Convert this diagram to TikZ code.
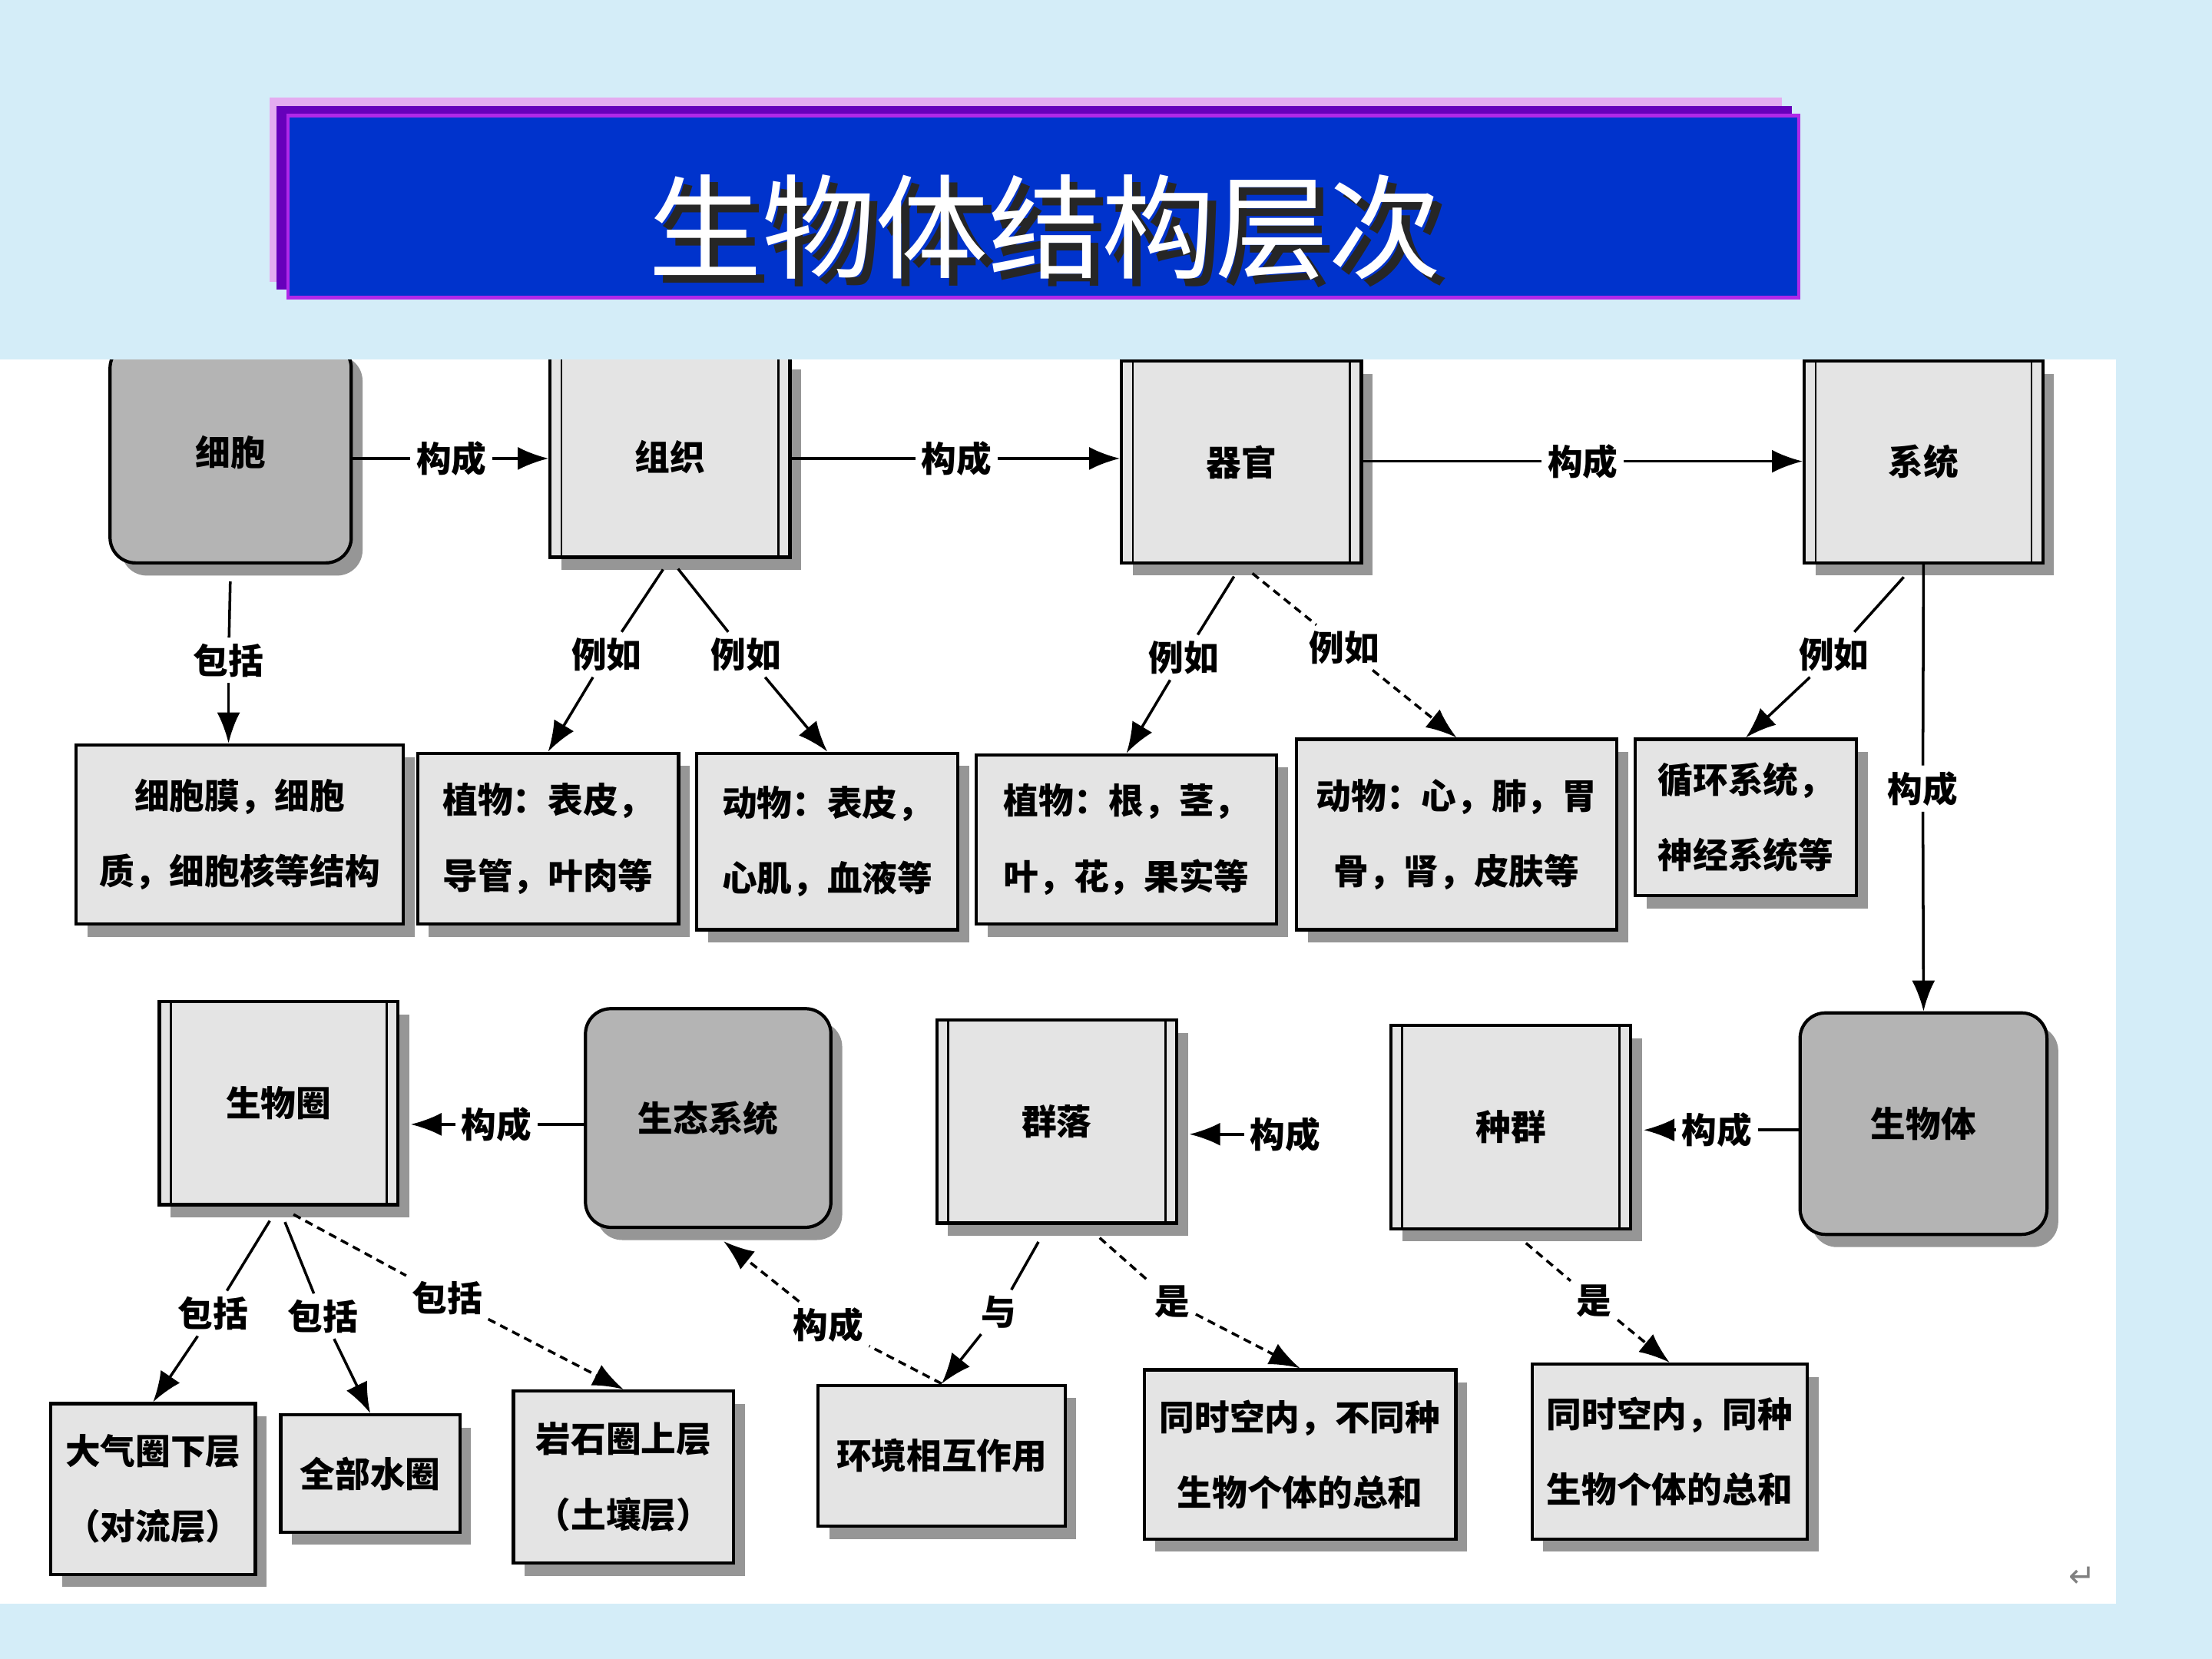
\documentclass[tikz,border=0pt]{standalone}
\usepackage{fontspec}
\newfontfamily\cjk{Noto Sans CJK SC}
\newfontfamily\symfont{DejaVu Sans}
\usetikzlibrary{arrows.meta,shadows}
\newlength\upx
\setlength\upx{0.018367cm}
\definecolor{bgblue}{RGB}{212,237,248}
\definecolor{titlepink}{RGB}{228,172,240}
\definecolor{titlepurple}{RGB}{102,0,187}
\definecolor{titleblue}{RGB}{0,51,204}
\definecolor{titleedge}{RGB}{176,40,232}
\definecolor{lightbox}{RGB}{228,228,228}
\definecolor{darkbox}{RGB}{180,180,180}
\definecolor{shadowgray}{RGB}{150,150,150}

\begin{document}
\begin{tikzpicture}[x=0.018367cm, y=-0.018367cm,
    wh/.style 2 args={minimum width=#1\upx, minimum height=#2\upx, inner sep=0pt},
    stage/.style={draw, line width=1.2pt, fill=lightbox,
        font=\cjk\bfseries\fontsize{13}{28}\selectfont,
        drop shadow={shadow xshift=8\upx, shadow yshift=-9\upx, fill=shadowgray, opacity=1}},
    twoline/.style={stage, path picture={
        \draw[line width=0.8pt] ([xshift=8\upx]path picture bounding box.north west) -- ([xshift=8\upx]path picture bounding box.south west)
            ([xshift=-8\upx]path picture bounding box.north east) -- ([xshift=-8\upx]path picture bounding box.south east);}},
    roundbox/.style={stage, fill=darkbox, rounded corners=18\upx},
    infobox/.style={stage, align=center},
    lbl/.style={font=\cjk\bfseries\fontsize{13}{16}\selectfont, inner sep=2pt},
    link/.style={line width=1pt},
    dlink/.style={link, densely dashed},
    arr/.style={link, -{Latex[length=0.4cm,width=0.3cm]}},
    darr/.style={dlink, -{Latex[length=0.4cm,width=0.3cm]}}]
\useasboundingbox (0,0) rectangle (1568,1176);
\fill[bgblue] (0,0) rectangle (1568,1176);

% title bar
\fill[titlepink] (191,69) rectangle (1263,200);
\fill[titlepurple] (196,75) rectangle (1270,205);
\draw[titleedge, line width=1.2pt, fill=titleblue] (204,82) rectangle (1275,211);
\node[font=\cjk\fontsize{42}{42}\selectfont, text=white] (title) at (741,161)
    {\makebox[0pt][l]{\raisebox{-3pt}[0pt][0pt]{\hspace{3pt}\color{black!85}生物体结构层次}}生物体结构层次};

\fill[white] (0,255) rectangle (1500,1137);
\node[font=\symfont\fontsize{12}{12}\selectfont, text=gray] (ret) at (1476,1118) {↵};

\begin{scope}
\clip (0,255) rectangle (1500,1137);

% levels
\node[roundbox, wh={171}{156}] (xibao) at (163.5,321) {细胞};
\node[twoline, wh={170}{142}] (zuzhi) at (475,324) {组织};
\node[twoline, wh={170}{143}] (qiguan) at (880,327.5) {器官};
\node[twoline, wh={169}{143}] (xitong) at (1363.5,327.5) {系统};
\node[twoline, wh={169}{144}] (shengwuquan) at (197.5,782) {生物圈};
\node[roundbox, wh={174}{155}] (shengtai) at (502,792.5) {生态系统};
\node[twoline, wh={170}{144}] (qunluo) at (749,795) {群落};
\node[twoline, wh={170}{144}] (zhongqun) at (1071,799) {种群};
\node[roundbox, wh={175}{157}] (shengwuti) at (1363.5,796.5) {生物体};

% examples
\node[infobox, wh={232}{127}] (b1) at (170,591.5) {细胞膜，细胞\\质，细胞核等结构};
\node[infobox, wh={185}{121}] (b2) at (388.5,594.5) {植物：表皮，\\导管，叶肉等};
\node[infobox, wh={185}{125}] (b3) at (586.5,596.5) {动物：表皮，\\心肌，血液等};
\node[infobox, wh={213}{120}] (b4) at (798.5,595) {植物：根，茎，\\叶，花，果实等};
\node[infobox, wh={227}{135}] (b5) at (1032.5,591.5) {动物：心，肺，胃\\骨，肾，皮肤等};
\node[infobox, wh={157}{111}] (b6) at (1237.5,579.5) {循环系统，\\神经系统等};
\node[infobox, wh={145}{121}] (c1) at (108.5,1055.5) {大气圈下层\\（对流层）};
\node[infobox, wh={127}{83}] (c2) at (262.5,1044.5) {全部水圈};
\node[infobox, wh={156}{122}] (c3) at (442,1047) {岩石圈上层\\（土壤层）};
\node[infobox, wh={175}{100}] (c4) at (667.5,1032) {环境相互作用};
\node[infobox, wh={221}{120}] (c5) at (921.5,1031) {同时空内，不同种\\生物个体的总和};
\node[infobox, wh={195}{124}] (c6) at (1183.5,1029) {同时空内，同种\\生物个体的总和};

% labels
\node[lbl] (l1) at (320,325) {构成};
\node[lbl] (l2) at (678,325) {构成};
\node[lbl] (l3) at (1122,327) {构成};
\node[lbl] (l4) at (162,468) {包括};
\node[lbl] (l5) at (430,464) {例如};
\node[lbl] (l6) at (529,464) {例如};
\node[lbl] (l7) at (839,466) {例如};
\node[lbl] (l8) at (953,459) {例如};
\node[lbl] (l9) at (1300,464) {例如};
\node[lbl] (l10) at (1363,559) {构成};
\node[lbl] (l11) at (352,797) {构成};
\node[lbl] (l12) at (911,804) {构成};
\node[lbl] (l13) at (1217,801) {构成};
\node[lbl] (l14) at (151,931) {包括};
\node[lbl] (l15) at (229,933) {包括};
\node[lbl] (l16) at (317,920) {包括};
\node[lbl] (l17) at (587,939) {构成};
\node[lbl] (l18) at (708,930) {与};
\node[lbl] (l19) at (831,923) {是};
\node[lbl] (l20) at (1130,922) {是};

% top row
\draw[link] (l1 -| xibao.east) -- (l1);
\draw[arr] (l1) -- (l1 -| zuzhi.west);
\draw[link] (l2 -| zuzhi.east) -- (l2);
\draw[arr] (l2) -- (l2 -| qiguan.west);
\draw[link] (l3 -| qiguan.east) -- (l3);
\draw[arr] (l3) -- (l3 -| xitong.west);
\draw[link, shorten <=12\upx] (xibao.south) -- (l4);
\draw[arr] (l4) -- (l4 |- b1.north);
\draw[link, shorten <=9\upx] (zuzhi.south) -- (l5);
\draw[arr] (l5) -- (b2.north);
\draw[link, shorten <=9\upx] (zuzhi.south) -- (l6);
\draw[arr] (l6) -- (b3.north);
\draw[link, shorten <=10\upx] (qiguan.south) -- (l7);
\draw[arr] (l7) -- (b4.north);
\draw[dlink, shorten <=10\upx] (qiguan.south) -- (l8);
\draw[darr] (l8) -- (b5.north);
\draw[link, shorten <=12\upx] ([xshift=-6\upx]xitong.south) -- (l9);
\draw[arr] (l9) -- (b6.north);
\draw[link] (xitong.south) -- (l10);
\draw[arr] (l10) -- (shengwuti.north);

% lower rows
\draw[link] (l11 -| shengtai.west) -- (l11);
\draw[arr, shorten >=8\upx] (l11) -- (l11 -| shengwuquan.east);
\draw[arr, shorten >=8\upx] (l12) -- (l12 -| qunluo.east);
\draw[link] (l13 -| shengwuti.west) -- (l13);
\draw[arr, shorten >=8\upx] (l13) -- (l13 -| zhongqun.east);
\draw[link, shorten <=12\upx] (shengwuquan.south) -- (l14);
\draw[arr] (l14) -- (c1.north);
\draw[link, shorten <=12\upx] (shengwuquan.south) -- (l15);
\draw[arr] (l15) -- (c2.north);
\draw[dlink, shorten <=12\upx] (shengwuquan.south) -- (l16);
\draw[darr] (l16) -- (c3.north);
\draw[dlink] (c4.north) -- (l17);
\draw[darr, shorten >=14\upx] (l17) -- (shengtai.south);
\draw[link, shorten <=14\upx] ([xshift=-6\upx]qunluo.south) -- (l18);
\draw[arr] (l18) -- (c4.north);
\draw[dlink, shorten <=14\upx] ([xshift=20\upx]qunluo.south) -- (l19);
\draw[darr] (l19) -- (c5.north);
\draw[dlink, shorten <=14\upx] (zhongqun.south) -- (l20);
\draw[darr] (l20) -- (c6.north);
\end{scope}
\end{tikzpicture}
\end{document}
